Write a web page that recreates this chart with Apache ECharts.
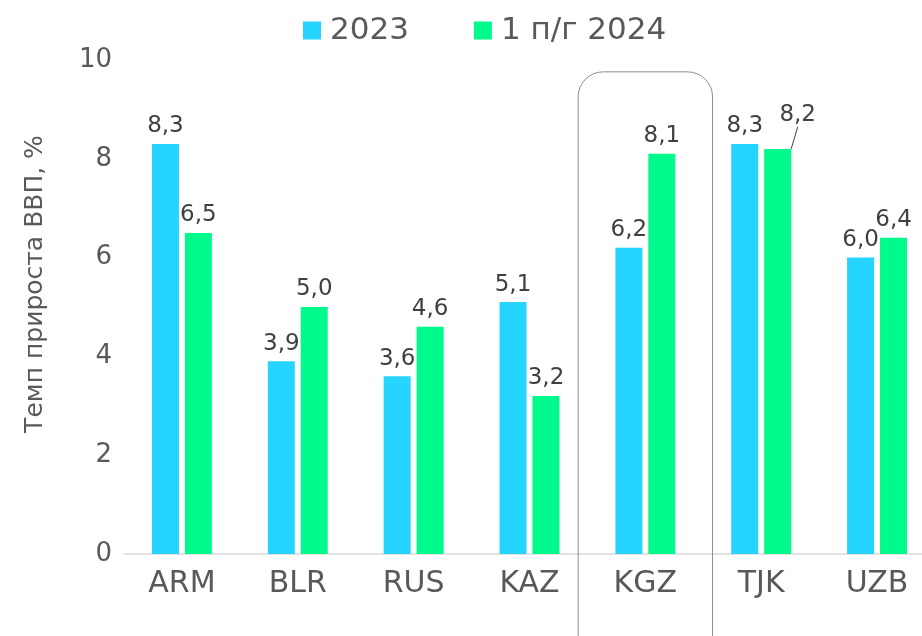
<!DOCTYPE html>
<html>
<head>
<meta charset="utf-8">
<script src="https://cdn.jsdelivr.net/npm/echarts@6/dist/echarts.min.js"></script>
<style>
  html, body { margin: 0; padding: 0; background: #fff; }
  #chart { width: 922px; height: 636px; }
</style>
</head>
<body>
<div id="chart"></div>
<script>
const categories = ['ARM', 'BLR', 'RUS', 'KAZ', 'KGZ', 'TJK', 'UZB'];
const values2023 = [8.3, 3.9, 3.6, 5.1, 6.2, 8.3, 6.0];
const valuesH1_2024 = [6.5, 5.0, 4.6, 3.2, 8.1, 8.2, 6.4];
const seriesNames = ['2023', '1 п/г 2024'];
const yTicks = [0, 2, 4, 6, 8, 10];
const highlighted = 'KGZ';

const FONT = 'DejaVu Sans';
const chart = echarts.init(document.getElementById('chart'));

// запятая вместо точки
const fmt = (v) => v.toFixed(1).replace('.', ',');

const labelStyle = {
  show: true,
  position: 'top',
  distance: 6,
  fontFamily: FONT,
  fontSize: 23,
  color: '#404040',
  formatter: (p) => fmt(p.value),
};

const option = {
  animation: false,
  textStyle: { fontFamily: FONT },
  legend: {
    top: 10,
    left: 298,
    itemWidth: 18,
    itemHeight: 18,
    itemGap: 65,
    icon: 'rect',
    textStyle: { fontFamily: FONT, fontSize: 31, color: '#595959', padding: [0, 0, 0, 4] },
    data: seriesNames,
  },
  grid: { left: 124, top: 60, right: -13, bottom: 82, outerBoundsMode: 'none', containLabel: false },
  xAxis: {
    type: 'category',
    data: categories,
    axisTick: { show: false },
    axisLine: { lineStyle: { color: '#d9d9d9', width: 1.5 } },
    axisLabel: { fontFamily: FONT, fontSize: 30, color: '#595959', margin: 15 },
  },
  yAxis: {
    type: 'value',
    min: yTicks[0],
    max: yTicks[yTicks.length - 1],
    interval: 2,
    splitLine: { show: false },
    axisLine: { show: false },
    axisTick: { show: false },
    axisLabel: { fontFamily: FONT, fontSize: 26, color: '#595959', margin: 12 },
    name: 'Темп прироста ВВП, %',
    nameLocation: 'middle',
    nameGap: 76,
    nameRotate: 90,
    nameTextStyle: { fontFamily: FONT, fontSize: 25, color: '#595959', padding: [0, 0, 0, 46] },
  },
  series: [
    {
      name: seriesNames[0],
      type: 'bar',
      barWidth: 27,
      barGap: '22%',
      itemStyle: { color: '#25D4FF' },
      label: labelStyle,
      data: values2023,
    },
    {
      name: seriesNames[1],
      type: 'bar',
      barWidth: 27,
      itemStyle: { color: '#00FA8C' },
      label: labelStyle,
      // у TJK подпись сдвинута, с выноской
      data: valuesH1_2024.map((v, i) =>
        categories[i] === 'TJK'
          ? { value: v, labelLine: { show: true, lineStyle: { color: '#404040', width: 1 } } }
          : v
      ),
      labelLayout: (p) => (p.dataIndex === categories.indexOf('TJK') ? { dx: 20, dy: -16 } : {}),
    },
  ],
};

chart.setOption(option);

// рамка вокруг KGZ
const cx = chart.convertToPixel({ xAxisIndex: 0 }, highlighted);
const band = chart.convertToPixel({ xAxisIndex: 0 }, categories[1]) - chart.convertToPixel({ xAxisIndex: 0 }, categories[0]);
const boxTop = chart.convertToPixel({ yAxisIndex: 0 }, 9.76);
const boxW = band * 1.16;
chart.setOption({
  graphic: [
    {
      type: 'rect',
      shape: { x: cx - boxW / 2, y: boxTop, width: boxW, height: 660 - boxTop, r: 25 },
      style: { fill: 'none', stroke: '#8c8c8c', lineWidth: 1 },
      z: 10,
    },
  ],
});
</script>
</body>
</html>
